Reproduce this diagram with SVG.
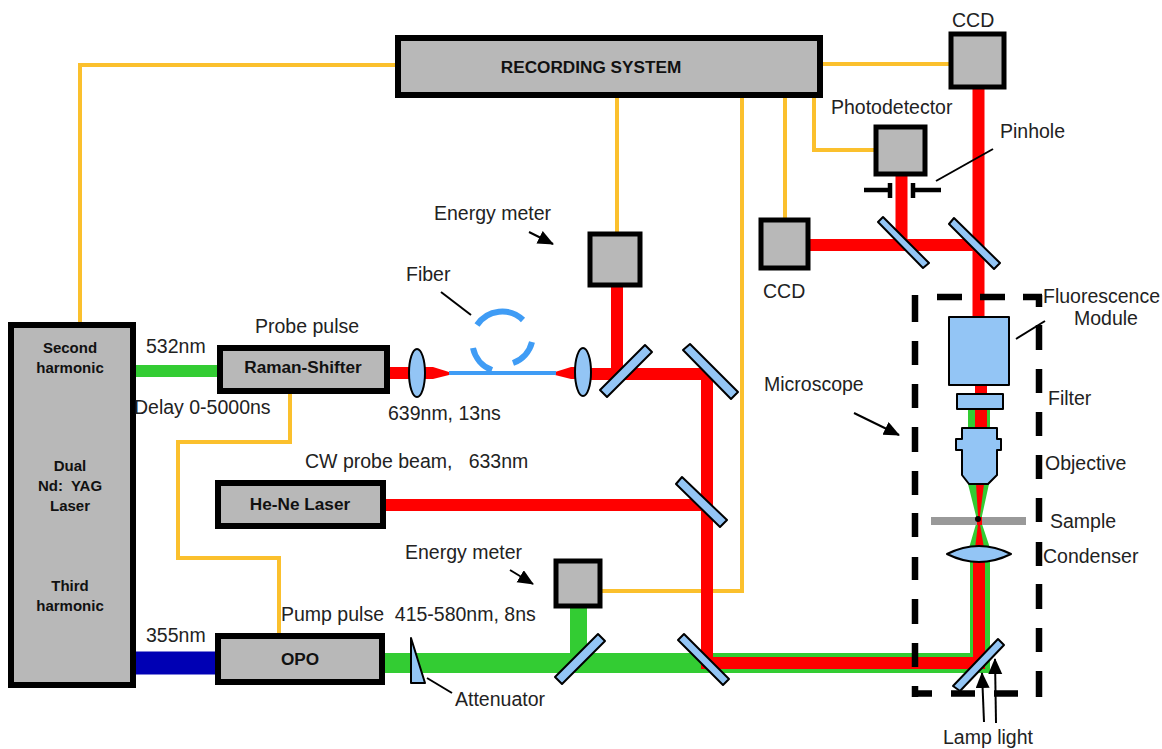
<svg xmlns="http://www.w3.org/2000/svg" width="1162" height="749" viewBox="0 0 1162 749">
<style>
text{font-family:"Liberation Sans",Arial,sans-serif;font-size:19.5px;fill:#222}
.b{font-weight:bold;font-size:17.2px;text-anchor:middle;fill:#111}
.s{font-size:15px}
.box{fill:#b8b8b8;stroke:#000;stroke-width:5}
.thick{fill:#b8b8b8;stroke:#000;stroke-width:6}
.opt{fill:#93c5f5;stroke:#000;stroke-width:2;stroke-linejoin:round}
.y{fill:none;stroke:#fbc02d;stroke-width:4}
.r{fill:none;stroke:#f00;stroke-width:12}
.g{fill:none;stroke:#33cc33}
.l{fill:none;stroke:#000;stroke-width:2}
.p{fill:none;stroke:#000;stroke-width:4.5}
.d{fill:none;stroke:#000;stroke-width:6.5}
</style>
<defs>
<marker id="a" markerWidth="16" markerHeight="16" refX="15" refY="7" orient="auto" markerUnits="userSpaceOnUse"><path d="M0 0L16 7L0 14z" fill="#000"/></marker>
</defs>
<g id="connectors">
<path class="y" d="M80 325V65H398"/>
<path class="y" d="M617 97V233"/>
<path class="y" d="M290 392V442H178V558H279V634"/>
<path class="y" d="M602 591H742V97"/>
<path class="y" d="M785 95V220"/>
<path class="y" d="M814 95V150H875"/>
<path class="y" d="M822 64H950"/>
<path class="g" stroke-width="12" d="M133 371H220"/>
<path fill="none" stroke="#0000b4" stroke-width="23" d="M133 663H218"/>
<path class="g" stroke-width="20" d="M384 663H700"/>
<path class="g" stroke-width="17" d="M578.500 605V655"/>
<path class="g" stroke-width="20" d="M700 663H980V560"/>
<path class="g" stroke-width="22" d="M979 405V432"/>
<path class="r" d="M388 373H412"/>
<path fill="#f00" d="M420 367H433L449 372V375L433 379H420z"/>
<path fill="#f00" d="M555 372L571 367H590V379H571L555 375z"/>
<path fill="none" stroke="#3f9cf5" stroke-width="4" d="M449 373H556"/>
<path fill="none" stroke="#3f9cf5" stroke-width="6" d="M477 325A30 30 0 0 1 523 320M532 342A30 30 0 0 1 513 363M492 370A30 30 0 0 1 473 348"/>
<path class="r" d="M590 374H707V663H985"/>
<path class="r" d="M617 285V374"/>
<path class="r" d="M384 505H705"/>
<path class="r" d="M810 245H978"/>
<path class="r" d="M901.500 175V245"/>
<path class="r" d="M978.500 86V320"/>
<path class="r" d="M981 385V432"/>
<path class="r" d="M979 558V668"/>
<path fill="#33cc33" d="M968 484H989L982 516V524L990 548H969L976 524V516z"/>
<path fill="#f00" d="M976 484H984L980 516V524L984 548H975L978 524V516z"/>
<path class="p" d="M864 190H890M890 183V198M913 183V198M913 190H941"/>
<path class="l" d="M936 181L993 149"/>
<path class="l" d="M1016 339L1045 321"/>
<path class="l" d="M441 292L471 315"/>
<path class="l" d="M427 678L452 693"/>
<path class="l" marker-end="url(#a)" d="M529 232L553 244"/>
<path class="l" marker-end="url(#a)" d="M510 570L533 584"/>
<path class="l" marker-end="url(#a)" d="M854 413L899 435"/>
<path class="l" marker-end="url(#a)" d="M984 722L982 673"/>
<path class="l" marker-end="url(#a)" d="M996 723L995 659"/>
</g>
<g id="microscope-frame">
<path class="d" d="M915 295V322M915 341V365M915 384V408M915 427V452M915 471V495M915 513V537M915 557V580M915 599V624M915 643V667M915 686V697"/>
<path class="d" d="M1039 295V307M1039 325V350M1039 369V393M1039 412V436M1039 455V479M1039 498V522M1039 542V566M1039 584V609M1039 628V652M1039 671V697"/>
<path class="d" d="M937 297H962M980 297H1005M1023 297H1042"/>
<path class="d" d="M912 693.500H932M951 693.500H975M994 693.500H1018"/>
</g>
<g id="recording-system"><rect class="thick" x="398" y="38" width="422" height="57"/><text class="b" x="591" y="73">RECORDING SYSTEM</text></g>
<g id="laser"><rect class="thick" x="11" y="325" width="122" height="360"/><text class="b s" x="70" y="353">Second</text><text class="b s" x="70" y="373">harmonic</text><text class="b s" x="70" y="471">Dual</text><text class="b s" x="70" y="491">Nd:&#160; YAG</text><text class="b s" x="70" y="511">Laser</text><text class="b s" x="70" y="591">Third</text><text class="b s" x="70" y="611">harmonic</text></g>
<g id="raman"><rect class="thick" x="220" y="348" width="167" height="43"/><text class="b" x="303" y="373">Raman-Shifter</text></g>
<g id="hene"><rect class="thick" x="218" y="483" width="165" height="43"/><text class="b" x="300" y="510">He-Ne Laser</text></g>
<g id="opo"><rect class="thick" x="218" y="636" width="164" height="46"/><text class="b" x="300" y="665">OPO</text></g>
<g id="em1"><rect class="box" x="590" y="234" width="50" height="51"/></g>
<g id="em2"><rect class="box" x="556" y="561" width="44" height="45"/></g>
<g id="ccd1"><rect class="box" x="951" y="34" width="53" height="53"/></g>
<g id="ccd2"><rect class="box" x="761" y="220" width="47" height="48"/></g>
<g id="pd"><rect class="box" x="876" y="127" width="49" height="47"/></g>
<g id="optics">
<ellipse class="opt" cx="417" cy="373" rx="8" ry="24"/>
<ellipse class="opt" cx="583" cy="372" rx="8" ry="24"/>
<path class="opt" d="M600 390L645 345L652 352L607 397z"/>
<path class="opt" d="M683 350L690 344L738 392L731 399z"/>
<path class="opt" d="M676 484L682 477L727 520L720 527z"/>
<path class="opt" d="M555 677L598 634L605 641L562 684z"/>
<path class="opt" d="M678 640L684 634L729 679L723 685z"/>
<path class="opt" d="M878 222L883 217L929 263L923 268z"/>
<path class="opt" d="M949 224L954 218L1000 263L994 269z"/>
<path class="opt" d="M953 686L998 639L1004 645L960 691z"/>
<path class="opt" d="M411 638L425 683H411z"/>
<rect class="opt" x="949" y="317" width="60" height="68"/>
<rect class="opt" x="957" y="394" width="46" height="15"/>
<path class="opt" d="M962 428H997V439H1001V450H997V475L988 484H969L962 475V450H956V439H962z"/>
<path class="opt" d="M947 554Q979 538 1011 554Q979 570 947 554z"/>
<rect x="931" y="517" width="95" height="8" fill="#999"/>
<path fill="#f00" d="M977 517h5v8h-5z"/>
<circle cx="978" cy="519" r="3" fill="#000"/>
</g>
<g id="labels">
<text x="952" y="27">CCD</text>
<text x="831" y="114">Photodetector</text>
<text x="1000" y="138">Pinhole</text>
<text x="763" y="298">CCD</text>
<text x="434" y="220">Energy meter</text>
<text x="406" y="281">Fiber</text>
<text x="255" y="333">Probe pulse</text>
<text x="146" y="353">532nm</text>
<text x="134" y="414">Delay 0-5000ns</text>
<text x="388" y="420">639nm, 13ns</text>
<text x="305" y="468">CW probe beam,&#160;&#160; 633nm</text>
<text x="405" y="559">Energy meter</text>
<text x="281" y="621">Pump pulse&#160; 415-580nm, 8ns</text>
<text x="146" y="642">355nm</text>
<text x="455" y="706">Attenuator</text>
<text x="764" y="391">Microscope</text>
<text x="1043" y="303">Fluorescence</text>
<text x="1074" y="325">Module</text>
<text x="1048" y="405">Filter</text>
<text x="1045" y="470">Objective</text>
<text x="1050" y="528">Sample</text>
<text x="1043" y="563">Condenser</text>
<text x="943" y="744">Lamp light</text>
</g>
</svg>
